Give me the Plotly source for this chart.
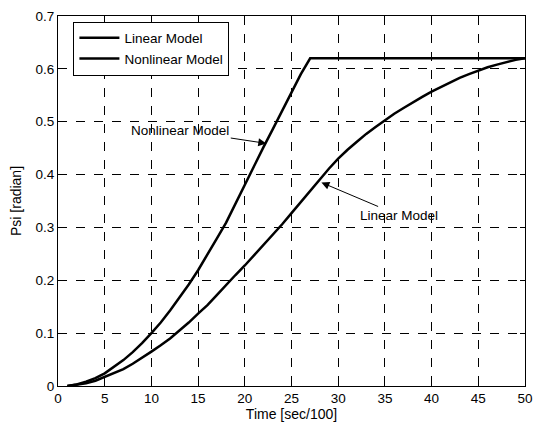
import plotly.graph_objects as go

time_nl = [1, 2, 3, 4, 5, 6, 7, 8, 9, 10, 11, 12, 13, 14, 15, 16, 17, 18, 19, 20,
           21, 22, 23, 24, 25, 26, 27, 30, 35, 40, 45, 50]
psi_nl = [0.0, 0.003, 0.008, 0.015, 0.024, 0.036, 0.049, 0.064, 0.081, 0.1, 0.12,
          0.143, 0.167, 0.192, 0.219, 0.25, 0.279, 0.309, 0.345, 0.382, 0.417,
          0.452, 0.486, 0.52, 0.555, 0.59, 0.62, 0.62, 0.62, 0.62, 0.62, 0.62]

time_lin = list(range(1, 51))
psi_lin = [0.0, 0.002, 0.005, 0.01, 0.017, 0.024, 0.032, 0.042, 0.053, 0.065,
           0.077, 0.09, 0.105, 0.12, 0.137, 0.153, 0.172, 0.192, 0.21, 0.228,
           0.247, 0.266, 0.286, 0.306, 0.327, 0.348, 0.369, 0.391, 0.411, 0.43,
           0.447, 0.462, 0.477, 0.49, 0.503, 0.515, 0.526, 0.537, 0.547, 0.557,
           0.566, 0.575, 0.583, 0.59, 0.597, 0.603, 0.608, 0.613, 0.617, 0.62]

FONT = "Liberation Sans, Arial, sans-serif"

fig = go.Figure()
fig.add_trace(go.Scatter(x=time_lin, y=psi_lin, mode="lines", name="Linear Model",
                         line=dict(color="black", width=2.5)))
fig.add_trace(go.Scatter(x=time_nl, y=psi_nl, mode="lines", name="Nonlinear Model",
                         line=dict(color="black", width=2.5)))

fig.add_annotation(x=22.3, y=0.459, text="Nonlinear Model", showarrow=True,
                   ax=-86, ay=-13, arrowhead=2, arrowsize=1.6, arrowwidth=1,
                   arrowcolor="black", font=dict(family=FONT, size=13.5, color="black"))
fig.add_annotation(x=28.2, y=0.385, text="Linear Model", showarrow=True,
                   ax=78, ay=33, arrowhead=2, arrowsize=1.6, arrowwidth=1,
                   arrowcolor="black", font=dict(family=FONT, size=13.5, color="black"))

axis_common = dict(showline=True, linecolor="black", linewidth=1, mirror="ticks",
                   ticks="inside", ticklen=5, tickcolor="black",
                   showgrid=True, gridcolor="black", gridwidth=1, griddash="dash",
                   zeroline=False, automargin=False,
                   tickfont=dict(family=FONT, size=13.5, color="black"))

fig.update_xaxes(range=[0, 50], dtick=5, tick0=0,
                 title=dict(text="Time [sec/100]", font=dict(family=FONT, size=14, color="black"),
                            standoff=2),
                 **axis_common)
fig.update_yaxes(range=[0, 0.7], dtick=0.1, tick0=0,
                 title=dict(text="Psi [radian]", font=dict(family=FONT, size=14, color="black"),
                            standoff=10),
                 **axis_common)

fig.update_layout(
    width=537, height=425,
    margin=dict(l=58, r=12, t=16, b=39),
    plot_bgcolor="white", paper_bgcolor="white",
    font=dict(family=FONT, size=13.5, color="black"),
    showlegend=True,
    legend=dict(x=0.033, y=0.985, xanchor="left", yanchor="top",
                bgcolor="white", bordercolor="black", borderwidth=1,
                font=dict(family=FONT, size=13.5, color="black"),
                tracegroupgap=0, itemwidth=40),
)

fig.write_html("out.html", config={"displayModeBar": False},
               post_script="document.body.style.margin='0';document.body.style.overflow='hidden';")
